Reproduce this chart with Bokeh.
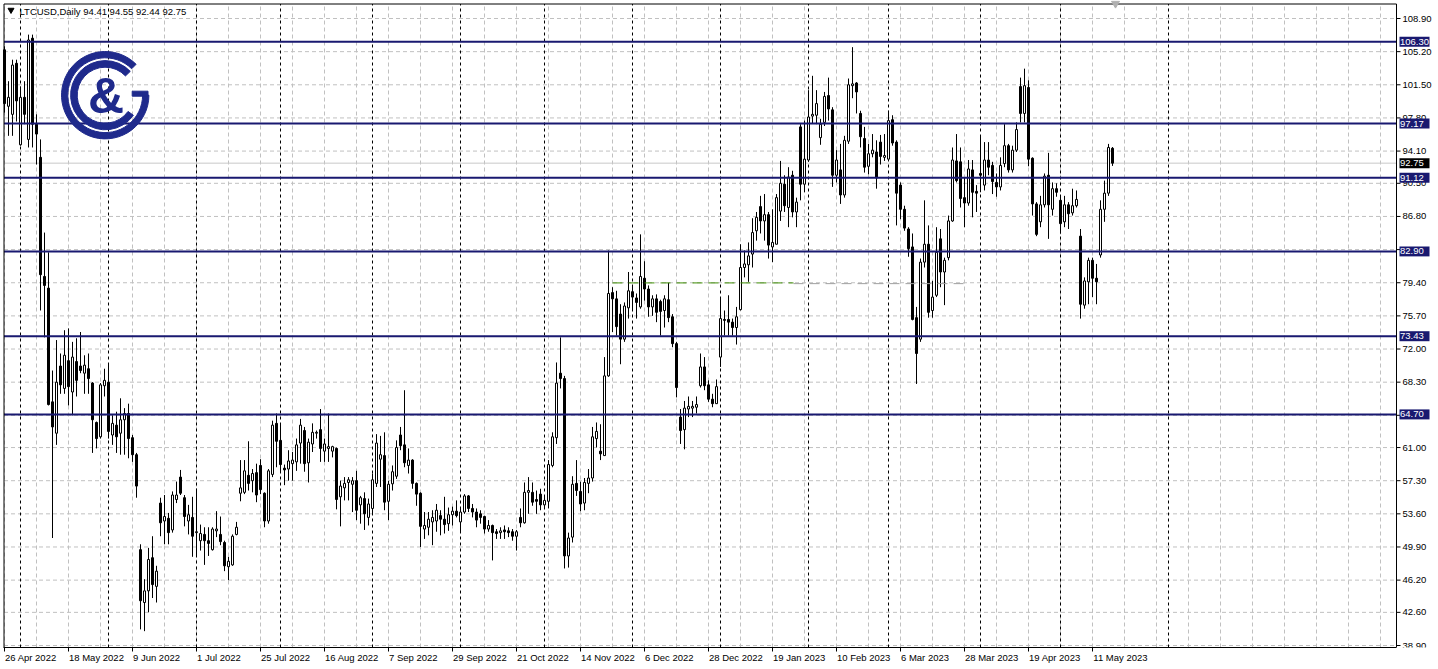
from bokeh.plotting import figure
from bokeh.models import Range1d, FixedTicker, LinearAxis, CustomJSTickFormatter
from bokeh.core.properties import value
from bokeh.embed import file_html
from bokeh.resources import INLINE

# ---------------- data ----------------
opens = [105.4, 99.1, 98.2, 103.9, 94.8, 100.1, 95.4, 106.7, 97.1, 93.4,
         80.1, 78.8, 66.1, 62.6, 70.1, 67.6, 70.7, 67.2, 70.6, 70.1,
         69.3, 69.8, 68.2, 63.8, 62.2, 67.9, 68.3, 62.4, 63.5, 62.6,
         64.1, 64.8, 62.1, 60.2, 49.6, 43.7, 45.0, 48.7, 45.5, 54.8,
         52.8, 53.1, 51.8, 55.2, 57.7, 55.4, 52.8, 53.2, 51.5, 50.6,
         51.3, 50.6, 49.6, 51.7, 51.3, 50.4, 47.7, 47.9, 51.3, 55.9,
         56.0, 57.9, 57.3, 58.2, 59.0, 55.9, 52.8, 58.0, 63.7, 61.8,
         58.7, 58.6, 59.2, 59.4, 61.5, 62.9, 59.3, 61.4, 62.6, 63.0,
         60.6, 60.9, 60.6, 60.9, 55.5, 56.5, 57.1, 56.9, 57.3, 54.6,
         55.3, 53.2, 54.2, 57.0, 59.7, 60.1, 55.0, 56.95, 57.8, 62.4,
         61.3, 59.0, 59.6, 57.0, 55.9, 51.9, 52.1, 52.7, 52.8, 53.4,
         53.0, 52.5, 53.5, 53.9, 52.7, 53.8, 55.6, 54.2, 53.8, 53.6,
         53.3, 51.9, 52.3, 51.6, 51.5, 51.8, 51.7, 51.6, 51.1, 53.2,
         52.6, 56.0, 56.0, 55.2, 55.8, 54.6, 55.0, 59.0, 62.1, 69.3,
         68.7, 48.9, 51.0, 57.0, 56.1, 54.8, 57.0, 57.6, 62.0, 60.6,
         60.1, 69.0, 78.3, 77.6, 75.9, 73.1, 76.6, 78.4, 77.7, 76.7,
         79.9, 78.7, 76.7, 77.6, 77.3, 76.3, 77.5, 75.6, 72.6, 64.4,
         63.0, 65.3, 65.4, 65.5, 67.9, 70.0, 68.0, 66.4, 65.9, 71.1,
         75.3, 75.3, 75.0, 74.4, 76.4, 81.1, 81.4, 82.6, 85.2, 87.9,
         86.3, 87.0, 83.4, 83.7, 87.4, 90.4, 87.8, 91.4, 87.3, 96.8,
         90.4, 93.1, 98.0, 98.1, 95.6, 97.3, 100.3, 98.7, 91.4, 92.0,
         89.2, 95.2, 101.4, 101.7, 98.3, 95.5, 92.4, 93.8, 94.0, 95.1,
         93.4, 93.2, 97.6, 95.1, 90.3, 87.6, 85.4, 83.4, 75.5, 73.1,
         81.7, 83.7, 76.3, 78.0, 84.3, 80.6, 82.2, 86.3, 93.0, 92.9,
         88.9, 88.3, 92.0, 89.6, 91.6, 90.3, 93.1, 92.5, 90.6, 90.1,
         92.7, 94.7, 92.0, 94.2, 101.3, 98.3, 101.2, 93.3, 88.2, 86.2,
         88.1, 91.4, 87.6, 89.9, 88.6, 86.2, 88.1, 87.2, 88.0, 84.6,
         76.9, 79.5, 81.9, 79.9, 82.5, 87.6, 89.4, 94.41]
highs = [105.8, 101.9, 104.3, 104.3, 101.3, 101.9, 107.1, 107.1, 98.2, 95.4,
         85.0, 82.8, 69.6, 73.0, 71.5, 74.1, 74.3, 72.8, 73.2, 73.9,
         71.3, 71.5, 68.3, 63.9, 68.2, 69.8, 70.4, 64.6, 65.0, 66.5,
         65.4, 65.9, 62.4, 60.4, 50.2, 46.3, 49.8, 51.1, 47.8, 55.4,
         55.7, 53.7, 56.1, 57.2, 58.5, 55.7, 54.6, 55.5, 56.4, 52.4,
         52.1, 52.1, 52.1, 53.9, 53.3, 50.6, 48.8, 51.3, 52.7, 59.6,
         59.6, 61.7, 58.6, 59.2, 59.7, 56.0, 58.6, 64.0, 64.8, 63.7,
         59.1, 60.7, 60.5, 62.0, 64.2, 63.3, 62.0, 63.7, 62.9, 65.3,
         62.0, 64.8, 61.2, 61.0, 57.3, 57.7, 57.7, 57.7, 58.4, 55.6,
         56.0, 55.3, 58.1, 62.5, 62.3, 62.7, 57.3, 59.0, 61.8, 63.3,
         67.4, 60.9, 59.7, 57.1, 56.0, 53.8, 53.8, 54.0, 54.7, 54.0,
         55.5, 54.3, 54.4, 55.1, 54.2, 55.8, 55.7, 54.7, 54.2, 54.0,
         53.4, 52.9, 52.4, 51.9, 52.1, 52.3, 52.1, 51.9, 51.8, 54.2,
         57.1, 57.7, 57.1, 56.2, 56.4, 55.5, 59.6, 62.7, 70.5, 73.3,
         69.0, 51.5, 57.8, 59.6, 57.2, 57.6, 58.6, 63.3, 63.8, 63.6,
         71.1, 83.0, 78.9, 78.5, 77.0, 77.2, 80.6, 79.1, 78.2, 84.8,
         81.8, 79.1, 78.0, 78.1, 77.5, 78.0, 79.4, 75.9, 72.8, 65.3,
         66.2, 66.7, 66.2, 66.7, 71.5, 71.1, 68.5, 67.0, 68.6, 77.8,
         76.3, 78.0, 75.4, 76.7, 83.7, 83.0, 83.9, 86.6, 87.3, 89.1,
         89.3, 87.3, 87.6, 89.3, 93.0, 91.4, 92.3, 91.9, 88.9, 97.1,
         97.5, 100.9, 102.5, 100.9, 97.7, 100.7, 102.3, 99.0, 94.2, 94.9,
         95.8, 102.2, 105.7, 101.8, 98.6, 96.8, 94.9, 96.0, 95.3, 95.9,
         96.0, 98.6, 98.1, 95.3, 90.6, 88.0, 85.6, 84.9, 76.7, 82.1,
         88.6, 85.8, 79.6, 85.6, 85.4, 82.2, 86.9, 94.5, 96.0, 94.5,
         91.2, 93.1, 93.1, 90.3, 95.8, 95.1, 95.1, 92.9, 91.6, 93.4,
         97.1, 94.9, 94.7, 97.3, 102.3, 103.3, 102.0, 93.4, 88.4, 89.1,
         91.6, 93.9, 90.6, 90.5, 89.1, 89.1, 88.4, 89.9, 89.7, 85.4,
         80.0, 82.2, 82.2, 81.5, 88.6, 90.8, 94.9, 94.55]
lows = [98.4, 95.8, 95.8, 97.4, 94.7, 97.1, 94.5, 94.5, 92.6, 76.3,
        73.3, 65.7, 50.9, 61.3, 67.0, 67.0, 65.7, 64.6, 66.7, 69.3,
        67.0, 67.0, 60.4, 60.9, 62.0, 66.7, 62.0, 61.3, 60.4, 60.2,
        60.2, 59.8, 59.4, 55.4, 40.7, 40.5, 42.6, 44.2, 43.7, 51.1,
        50.2, 50.2, 51.5, 54.8, 55.7, 52.2, 51.3, 48.8, 48.8, 49.5,
        47.9, 48.9, 49.5, 51.0, 50.1, 47.2, 46.2, 47.8, 51.2, 55.0,
        55.8, 56.2, 56.0, 54.9, 55.8, 52.1, 52.5, 57.7, 58.8, 58.3,
        56.8, 57.3, 57.3, 58.4, 59.2, 58.3, 57.1, 60.5, 62.0, 59.4,
        59.4, 59.4, 59.9, 54.1, 52.2, 55.1, 55.1, 53.8, 52.9, 52.5,
        51.8, 52.3, 53.6, 56.6, 56.6, 54.0, 52.9, 56.2, 57.5, 60.7,
        58.8, 58.1, 56.4, 54.5, 49.9, 50.8, 51.2, 50.1, 51.6, 51.2,
        51.4, 51.7, 52.3, 53.2, 51.6, 53.6, 53.8, 53.2, 52.1, 52.5,
        51.4, 51.6, 48.4, 50.8, 50.8, 50.8, 51.0, 50.6, 49.5, 52.1,
        52.5, 53.6, 54.5, 53.6, 54.0, 54.2, 54.2, 58.8, 61.4, 67.6,
        47.5, 47.6, 50.4, 55.6, 53.9, 54.0, 55.9, 57.2, 61.0, 59.6,
        60.1, 68.9, 73.9, 73.5, 70.3, 72.8, 75.4, 76.3, 75.4, 76.5,
        77.4, 75.6, 75.7, 75.0, 73.5, 74.4, 75.0, 72.2, 66.6, 61.4,
        60.8, 64.4, 64.4, 64.8, 67.7, 67.4, 66.1, 65.5, 65.9, 70.0,
        73.5, 73.5, 73.5, 72.5, 76.3, 80.0, 79.5, 81.1, 84.1, 84.9,
        84.1, 82.1, 81.7, 83.7, 86.3, 87.3, 85.6, 86.7, 85.6, 88.6,
        89.5, 92.9, 97.2, 97.1, 94.8, 96.9, 97.5, 90.1, 90.6, 88.2,
        88.9, 94.9, 100.0, 98.3, 94.5, 91.7, 91.5, 93.4, 89.9, 92.6,
        93.0, 93.0, 94.7, 85.8, 86.5, 85.2, 82.3, 75.2, 68.1, 72.8,
        81.1, 75.5, 75.5, 77.8, 78.9, 76.9, 81.9, 86.2, 90.6, 87.8,
        85.6, 88.0, 86.7, 87.3, 89.5, 89.7, 91.4, 89.3, 89.0, 89.7,
        92.3, 91.7, 91.7, 94.0, 97.3, 97.3, 92.4, 86.9, 84.6, 85.6,
        87.8, 84.3, 86.9, 89.0, 84.9, 85.6, 85.4, 86.9, 87.8, 75.4,
        76.5, 77.0, 77.8, 77.0, 82.2, 86.2, 89.1, 92.44]
closes = [99.4, 100.1, 103.7, 99.7, 100.1, 98.2, 106.5, 97.1, 96.0, 80.3,
          79.1, 65.8, 63.3, 68.3, 68.0, 71.3, 67.8, 71.1, 68.5, 69.6,
          70.2, 68.7, 64.1, 62.0, 68.0, 68.5, 62.8, 63.7, 62.2, 64.1,
          64.8, 62.0, 60.2, 56.7, 43.9, 45.0, 48.5, 45.7, 47.2, 52.6,
          53.3, 51.5, 55.7, 55.7, 55.9, 53.3, 53.5, 51.1, 51.6, 51.4,
          50.6, 50.3, 51.9, 51.9, 50.5, 47.8, 48.3, 51.1, 52.1, 56.5,
          58.4, 57.0, 58.1, 55.7, 56.3, 52.8, 58.4, 63.5, 61.7, 59.1,
          58.5, 59.5, 59.6, 61.3, 63.5, 59.2, 61.6, 62.7, 62.7, 60.9,
          61.4, 61.1, 61.1, 55.2, 56.7, 57.0, 57.4, 57.3, 54.0, 55.4,
          53.6, 54.7, 57.4, 61.5, 60.2, 54.9, 56.9, 58.3, 61.0, 61.2,
          59.3, 59.6, 57.0, 55.8, 52.2, 52.3, 53.0, 53.2, 54.0, 53.0,
          52.4, 53.5, 53.9, 53.4, 53.8, 55.6, 54.2, 53.8, 52.9, 53.2,
          51.9, 52.3, 51.5, 51.4, 51.7, 51.6, 51.5, 51.1, 51.6, 52.6,
          56.0, 56.2, 54.9, 55.0, 54.6, 55.1, 59.1, 62.2, 68.2, 68.7,
          48.9, 50.9, 56.9, 56.2, 54.7, 57.1, 57.6, 62.2, 62.8, 60.3,
          69.0, 78.2, 77.6, 74.5, 73.1, 76.8, 78.5, 77.8, 77.2, 80.1,
          78.7, 76.7, 77.6, 76.1, 76.2, 77.6, 75.5, 72.6, 67.7, 62.9,
          65.4, 65.6, 65.6, 65.8, 70.0, 67.9, 66.4, 65.9, 67.8, 75.4,
          75.2, 75.0, 74.4, 75.6, 81.1, 81.5, 82.4, 85.0, 86.7, 86.3,
          87.0, 83.6, 83.9, 88.9, 90.5, 88.0, 91.2, 87.3, 88.4, 90.4,
          93.2, 97.9, 98.2, 99.4, 97.1, 100.2, 98.8, 91.4, 93.1, 89.2,
          95.3, 101.5, 101.6, 100.7, 95.7, 92.3, 93.8, 94.2, 91.1, 93.5,
          93.6, 97.5, 95.0, 89.4, 87.6, 85.5, 83.2, 75.3, 71.5, 81.7,
          83.7, 76.1, 77.8, 82.8, 80.6, 81.9, 86.3, 93.1, 90.8, 88.8,
          88.3, 92.1, 89.5, 89.4, 91.4, 93.1, 92.3, 90.7, 90.1, 92.5,
          94.7, 92.0, 94.2, 96.5, 98.3, 101.4, 93.2, 88.2, 84.8, 88.1,
          91.3, 88.1, 89.9, 89.5, 86.0, 88.1, 87.1, 88.0, 88.7, 77.0,
          79.6, 81.9, 79.9, 79.5, 87.6, 89.4, 94.5, 92.75]

date_label_bars = [0, 16, 32, 48, 64, 80, 96, 112, 128, 144, 160, 176, 192, 208, 224, 240, 256, 272]
date_labels = ["26 Apr 2022", "18 May 2022", "9 Jun 2022", "1 Jul 2022", "25 Jul 2022",
               "16 Aug 2022", "7 Sep 2022", "29 Sep 2022", "21 Oct 2022", "14 Nov 2022",
               "6 Dec 2022", "28 Dec 2022", "19 Jan 2023", "10 Feb 2023", "6 Mar 2023",
               "28 Mar 2023", "19 Apr 2023", "11 May 2023"]
month_start_bars = [4, 26, 48, 69, 92, 114, 135, 157, 179, 201, 221, 244, 264, 291]

y_ticks = [38.9, 42.6, 46.2, 49.9, 53.6, 57.3, 61.0, 64.6, 68.3, 72.0, 75.7, 79.4,
           83.1, 86.8, 90.5, 94.1, 97.8, 101.5, 105.2, 108.9]
hidden_y_ticks = [64.6, 83.1]

levels = [106.30, 97.17, 91.12, 82.90, 73.43, 64.70]
level_labels = ["106.30", "97.17", "91.12", "82.90", "73.43", "64.70"]
last_price = 92.75
last_label = "92.75"

zone_start = [152.0, 197.25]
zone_end = [197.25, 240.25]
zone_price = [79.38, 79.30]
zone_colors = ["#3c8c00", "#a0a0a0"]

header = "LTCUSD,Daily  94.41 94.55 92.44 92.75"

# ---------------- layout (pixels) ----------------
W, H = 1438, 669
BB = 22               # bottom time-scale panel
FW, FH = W, H - BB    # frame spans the full width (price scale drawn inside it)
CHART_R = 1396        # right edge of the chart box, px
BAR_PX = 4.0
x0 = -1.0             # bar 0 sits 4 px from the left
x1 = x0 + FW / BAR_PX
xr = x0 + CHART_R / BAR_PX
PX_PER_UNIT = 627.0 / 70.0
y1 = 108.9 + 18.0 / PX_PER_UNIT
y0 = y1 - FH / PX_PER_UNIT

NAVY = "#191970"
LOGO = "#1f2a8c"
FONT = "Liberation Sans"
FSZ = 9.5
FS = "%.1fpx" % FSZ
GRID = "#c0c0c0"


def dx(sx):
    return x0 + sx * (x1 - x0) / FW


def dy(sy):
    return y1 - sy * (y1 - y0) / FH


# approx glyph advance widths (Liberation Sans, em units)
ADV = {' ': 0.278, 'A': 0.667, 'p': 0.556, 'r': 0.333, 'M': 0.833, 'a': 0.556, 'y': 0.5,
       'J': 0.5, 'u': 0.556, 'n': 0.556, 'l': 0.222, 'S': 0.667, 'e': 0.556, 'O': 0.778,
       'c': 0.5, 't': 0.278, 'N': 0.722, 'o': 0.556, 'v': 0.5, 'D': 0.722, 'F': 0.611,
       'b': 0.556, 'g': 0.556}


def text_w(s, size=FSZ):
    return size * sum(0.556 if ch.isdigit() else ADV.get(ch, 0.55) for ch in s)


p = figure(width=W, height=H, x_range=Range1d(x0, x1), y_range=Range1d(y0, y1),
           output_backend="svg", toolbar_location=None,
           min_border_left=0, min_border_top=0, min_border_right=0, min_border_bottom=BB)
p.background_fill_color = "white"
p.border_fill_color = "white"
p.outline_line_color = None
p.xgrid.visible = False
p.ygrid.visible = False
p.yaxis.visible = False

# x axis: tick marks at the bars
p.xaxis.ticker = FixedTicker(ticks=date_label_bars)
p.xaxis.formatter = CustomJSTickFormatter(code="return ''")
p.xaxis.major_label_text_font_size = "1px"
p.xaxis.major_label_standoff = 0
p.xaxis.major_tick_out = 4
p.xaxis.major_tick_in = 0
p.xaxis.minor_tick_out = 0
p.xaxis.minor_tick_in = 0
p.xaxis.axis_line_color = "black"
p.xaxis.bounds = (dx(3), xr)

# second x axis: left-aligned date labels (tick placed at label centre)
label_ticks = [b + (text_w(t) / 2.0 + 0.5) / BAR_PX for b, t in zip(date_label_bars, date_labels)]
lab_axis = LinearAxis(ticker=FixedTicker(ticks=label_ticks),
                      formatter=CustomJSTickFormatter(args=dict(ts=label_ticks, ls=date_labels), code="""
for (let k = 0; k < ts.length; k++) { if (Math.abs(ts[k] - tick) < 1e-6) return ls[k]; }
return '';"""))
lab_axis.axis_line_color = None
lab_axis.major_tick_out = 0
lab_axis.major_tick_in = 0
lab_axis.minor_tick_out = 0
lab_axis.minor_tick_in = 0
lab_axis.major_label_standoff = 0
lab_axis.major_label_text_font = FONT
lab_axis.major_label_text_font_size = FS
lab_axis.major_label_text_color = "black"
p.add_layout(lab_axis, "below")

# grid
vgrid = list(range(0, int(xr) + 1, 8))
p.segment(x0=vgrid, y0=[y0] * len(vgrid), x1=vgrid, y1=[dy(3.5)] * len(vgrid),
          line_color=GRID, line_dash="4 3", line_width=1)
p.segment(x0=[dx(3.5)] * len(y_ticks), y0=y_ticks, x1=[xr] * len(y_ticks), y1=y_ticks,
          line_color=GRID, line_dash="4 3", line_width=1)

# month separators
p.segment(x0=month_start_bars, y0=[y0] * len(month_start_bars), x1=month_start_bars,
          y1=[dy(3.5)] * len(month_start_bars), line_color="black", line_dash="3 3", line_width=1)

# current price line
p.segment(x0=[dx(3.5)], y0=[last_price], x1=[xr], y1=[last_price], line_color="#c8c8c8", line_width=1)

# candles
idx = list(range(len(opens)))
p.segment(x0=idx, y0=lows, x1=idx, y1=highs, line_color="black", line_width=1)
tops = [max(o, c) for o, c in zip(opens, closes)]
bots = [min(o, c) for o, c in zip(opens, closes)]
fills = ["white" if c >= o else "black" for o, c in zip(opens, closes)]
p.vbar(x=idx, width=0.5, top=tops, bottom=bots, fill_color=fills, line_color="black", line_width=1)

# broken horizontal line object
p.segment(x0=zone_start, y0=zone_price, x1=zone_end, y1=zone_price, line_color=zone_colors,
          line_dash="10 6", line_width=1)

# level lines
p.segment(x0=[dx(3.5)] * len(levels), y0=levels, x1=[xr] * len(levels), y1=levels,
          line_color=NAVY, line_width=2)

# chart box border (left, top, right)
p.segment(x0=[dx(3.5), dx(3.5), xr], y0=[y0, dy(3.5), y0], x1=[dx(3.5), xr, xr],
          y1=[dy(3.5), dy(3.5), dy(3.5)], line_color="black", line_width=1)

# price scale: tick marks and labels
shown = [t for t in y_ticks if t not in hidden_y_ticks]
p.segment(x0=[xr] * len(y_ticks), y0=y_ticks, x1=[xr + 1.0] * len(y_ticks), y1=y_ticks,
          line_color="black", line_width=1)
p.text(x=[xr + 6.0 / BAR_PX] * len(shown), y=shown, text=["%.2f" % t for t in shown],
       text_font=value(FONT), text_font_size=value(FS), text_align="left",
       text_baseline="middle", text_color="black")

# level tags on the price scale
tag_x = xr + (3.0 + 15.0) / BAR_PX
p.rect(x=[tag_x] * len(levels), y=levels, width=30, height=10, width_units="screen",
       height_units="screen", fill_color=NAVY, line_color=None)
p.text(x=[xr + 3.5 / BAR_PX] * len(levels), y=levels, text=level_labels,
       text_font=value(FONT), text_font_size=value(FS), text_align="left",
       text_baseline="middle", text_color="white")
p.rect(x=[tag_x], y=[last_price], width=30, height=10, width_units="screen",
       height_units="screen", fill_color="black", line_color=None)
p.text(x=[xr + 3.5 / BAR_PX], y=[last_price], text=[last_label],
       text_font=value(FONT), text_font_size=value(FS), text_align="left",
       text_baseline="middle", text_color="white")

# header
p.scatter(x=[dx(10.5)], y=[dy(9.5)], marker="inverted_triangle", size=6, color="black")
p.text(x=[dx(19)], y=[dy(5)], text=[header], text_font=value(FONT), text_font_size=value(FS),
       text_align="left", text_baseline="top", text_color="black")
# chart shift marker
p.scatter(x=[dx(1115)], y=[dy(3.0)], marker="inverted_triangle", size=8, color="#b0b0b0")

# logo
cx, cy = 104.7, 94.7
p.annular_wedge(x=[dx(cx)], y=[dy(cy)], inner_radius=37.4, outer_radius=43.7,
                inner_radius_units="screen", outer_radius_units="screen",
                start_angle=0.785, end_angle=6.283, color=LOGO)
p.annular_wedge(x=[dx(cx)], y=[dy(cy)], inner_radius=28.0, outer_radius=34.6,
                inner_radius_units="screen", outer_radius_units="screen",
                start_angle=0.76, end_angle=5.665, color=LOGO)
p.quad(left=[dx(131.7)], right=[dx(147.5)], top=[dy(90.7)], bottom=[dy(95.7)], color=LOGO)
p.text(x=[dx(105.5)], y=[dy(95.5)], text=["&"], text_align="center",
       text_baseline="middle", text_font=value(FONT), text_font_style="bold",
       text_font_size=value("50px"), text_color=LOGO)

open("out.html", "w").write(file_html(p, INLINE))
